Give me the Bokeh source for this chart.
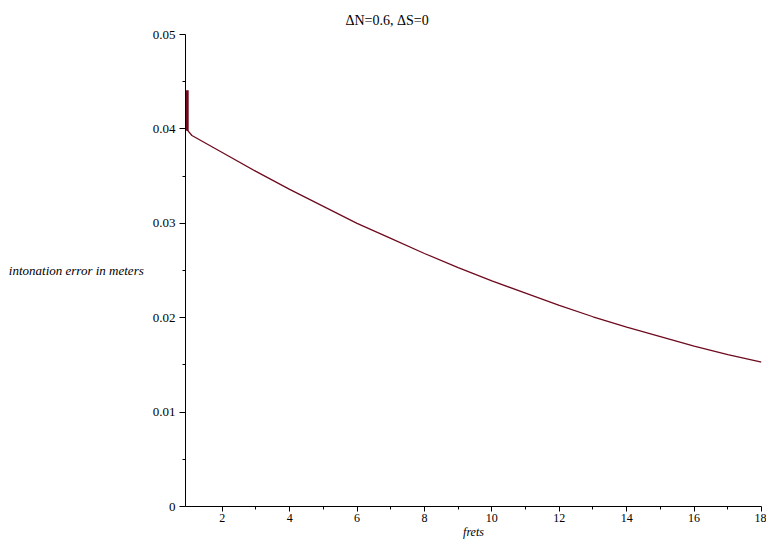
from bokeh.plotting import figure
from bokeh.models import FixedTicker, CustomJSTickFormatter, Range1d
from bokeh.embed import file_html
from bokeh.resources import INLINE

# data
spike_frets = [0.96, 0.96]
spike_error = [0.0441, 0.0398]

frets = [0.96, 1.1, 2, 3, 4, 5, 6, 7, 8, 9, 10, 11, 12, 13, 14, 15, 16, 17, 18]
error = [0.0399, 0.0393, 0.0375, 0.0355, 0.0336, 0.0318, 0.0300, 0.0284, 0.0268,
         0.0253, 0.0239, 0.0226, 0.0213, 0.0201, 0.0190, 0.0180, 0.0170, 0.0161, 0.0153]

x_major = [2, 4, 6, 8, 10, 12, 14, 16, 18]
x_minor = [3, 5, 7, 9, 11, 13, 15, 17]
y_major = [0, 0.01, 0.02, 0.03, 0.04, 0.05]
y_minor = [0.005, 0.015, 0.025, 0.035, 0.045]

title_text = "\u0394N=0.6, \u0394S=0"

SERIF = "Times New Roman, Liberation Serif, serif"

p = figure(width=766, height=543, output_backend="svg", toolbar_location=None,
           x_range=Range1d(0.91, 18), y_range=Range1d(0, 0.05),
           min_border_left=185, min_border_right=5, min_border_top=34, min_border_bottom=37,
           title=title_text)
p.title.align = "left"
p.title.offset = 160
p.title.standoff = 14
p.title.text_font = SERIF
p.title.text_font_style = "normal"
p.title.text_font_size = "14px"
p.title.text_color = "black"
p.outline_line_color = None
p.grid.visible = False
p.background_fill_color = "white"

p.line(frets, error, line_color="#6e0a1e", line_width=1.3)
p.line(spike_frets, spike_error, line_color="#6e0a1e", line_width=3)

xa = p.xaxis[0]
xa.ticker = FixedTicker(ticks=x_major, minor_ticks=x_minor)
xa.axis_label = "frets"
ya = p.yaxis[0]
ya.ticker = FixedTicker(ticks=y_major, minor_ticks=y_minor)
ya.formatter = CustomJSTickFormatter(code="return tick == 0 ? '0' : tick.toFixed(2);")
ya.axis_label = "intonation error in meters"
ya.axis_label_orientation = "horizontal"

for ax in (xa, ya):
    ax.axis_line_color = "black"
    ax.major_tick_line_color = "black"
    ax.minor_tick_line_color = "black"
    ax.major_tick_in = 0
    ax.major_tick_out = 6
    ax.minor_tick_in = 0
    ax.minor_tick_out = 3
    ax.major_label_text_font = SERIF
    ax.major_label_text_font_size = "13px"
    ax.major_label_text_color = "black"
    ax.axis_label_text_font = SERIF
    ax.axis_label_text_font_style = "italic"
    ax.axis_label_text_font_size = "13px"
    ax.axis_label_text_color = "black"

xa.major_label_text_font_size = "12px"
xa.axis_label_text_font_size = "12px"
xa.major_tick_out = 5
xa.major_label_standoff = 2
xa.axis_label_standoff = 0
ya.major_label_standoff = 4
ya.axis_label_standoff = 6

open("out.html", "w").write(file_html(p, INLINE))
